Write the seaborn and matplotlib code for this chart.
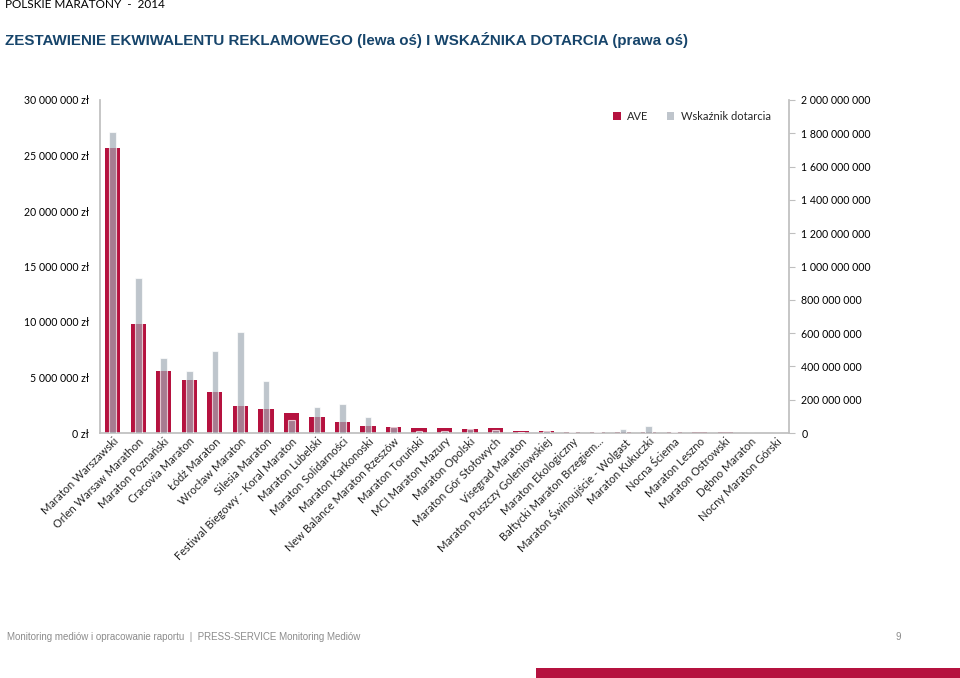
import matplotlib
matplotlib.use("Agg")
import matplotlib.pyplot as plt
import seaborn as sns
import pandas as pd
from matplotlib.ticker import FuncFormatter, MultipleLocator
from matplotlib.patches import Patch, Rectangle

sns.set_theme(style="white")
plt.rcParams['font.family'] = ['Lato', 'DejaVu Sans']

categories = [
    "Maraton Warszawski", "Orlen Warsaw Marathon", "Maraton Poznański",
    "Cracovia Maraton", "Łódź Maraton", "Wrocław Maraton", "Silesia Maraton",
    "Festiwal Biegowy - Koral Maraton", "Maraton Lubelski",
    "Maraton Solidarności", "Maraton Karkonoski",
    "New Balance Maraton Rzeszów", "Maraton Toruński", "MCI Maraton Mazury",
    "Maraton Opolski", "Maraton Gór Stołowych", "Visegrad Maraton",
    "Maraton Puszczy Goleniowskiej", "Maraton Ekologiczny",
    "Bałtycki Maraton Brzegiem...", "Maraton Świnoujście - Wolgast",
    "Maraton Kukuczki", "Nocna Ściema", "Maraton Leszno",
    "Maraton Ostrowski", "Dębno Maraton", "Nocny Maraton Górski",
]
# AVE in zł
ave = [25_700_000, 9_790_000, 5_560_000, 4_740_000, 3_720_000, 2_400_000,
       2_190_000, 1_770_000, 1_410_000, 990_000, 630_000, 570_000, 480_000,
       480_000, 390_000, 480_000, 180_000, 210_000, 100_000, 130_000,
       100_000, 100_000, 80_000, 100_000, 70_000, 20_000, 10_000]
# Wskaźnik dotarcia
reach = [1_806_000_000, 933_000_000, 449_000_000, 370_000_000, 492_000_000,
         605_000_000, 314_000_000, 78_000_000, 154_000_000, 176_000_000,
         98_000_000, 38_000_000, 14_000_000, 14_000_000, 26_000_000,
         18_000_000, 8_000_000, 10_000_000, 6_000_000, 8_000_000,
         22_000_000, 42_000_000, 6_000_000, 3_000_000, 2_000_000,
         500_000, 500_000]

df = pd.DataFrame({"cat": categories, "ave": ave, "reach": reach})

RED = "#B5123F"
GREY = "#A2ABB5"
AXC = "#BFBFBF"

fig = plt.figure(figsize=(9.6, 6.78), dpi=100)
ax = fig.add_axes([100/960, 1-433/678, 689/960, 333/678])

sns.barplot(data=df, x="cat", y="ave", color=RED, saturation=1, width=0.6,
            ax=ax, linewidth=0)
ax2 = ax.twinx()
sns.barplot(data=df, x="cat", y="reach", color=GREY, saturation=1, width=0.26,
            ax=ax2, alpha=0.69, edgecolor="white", linewidth=0.8)

ax.set_xlim(-0.5, len(categories) - 0.5)
ax.set_ylim(0, 30_000_000)
ax2.set_ylim(0, 2_000_000_000)
ax.yaxis.set_major_locator(MultipleLocator(5_000_000))
ax2.yaxis.set_major_locator(MultipleLocator(200_000_000))

def fmt_space(v):
    return f"{int(round(v)):,}".replace(",", " ")

ax.yaxis.set_major_formatter(FuncFormatter(lambda v, p: fmt_space(v) + " zł"))
ax2.yaxis.set_major_formatter(FuncFormatter(lambda v, p: fmt_space(v)))

for a in (ax, ax2):
    a.set_xlabel("")
    a.set_ylabel("")
    a.grid(False)
    for s in a.spines.values():
        s.set_visible(False)

ax.spines['left'].set_visible(True)
ax.spines['left'].set_color(AXC)
ax.spines['bottom'].set_visible(True)
ax.spines['bottom'].set_color(AXC)
ax2.spines['right'].set_visible(True)
ax2.spines['right'].set_color(AXC)

ax.tick_params(axis='y', length=0, labelsize=7.6, colors="#000000", pad=8)
ax2.tick_params(axis='y', length=4, width=0.8, color=AXC, labelsize=7.6,
                labelcolor="#000000", pad=5, direction='out')
ax.tick_params(axis='x', length=0, labelsize=8.0, pad=2)
ax.set_xticks(range(len(categories)))
ax.set_xticklabels(categories, rotation=45, ha="right", rotation_mode="anchor")
ax2.tick_params(axis='x', length=0)

handles = [Patch(facecolor=RED, edgecolor="none"),
           Patch(facecolor="#BFC5CC", edgecolor="none")]
fig.legend(handles, ["AVE", "Wskaźnik dotarcia"], loc="center",
           bbox_to_anchor=(692/960, 1-116/678), ncol=2, frameon=False,
           fontsize=8.0, handlelength=0.7, handleheight=0.7,
           handletextpad=0.6, columnspacing=1.6)

fig.text(5/960, 1-5/678, "POLSKIE MARATONY  -  2014", fontsize=8.5,
         va="center", ha="left", color="#000000")
fig.text(5/960, 1-40/678,
         "ZESTAWIENIE EKWIWALENTU REKLAMOWEGO (lewa oś) I WSKAŹNIKA DOTARCIA (prawa oś)",
         fontsize=10.9, fontweight="bold", color="#17456B", va="center",
         ha="left", family=['Liberation Sans'])
fig.text(7/960, 1-637/678,
         "Monitoring mediów i opracowanie raportu  |  PRESS-SERVICE Monitoring Mediów",
         fontsize=7.0, color="#8C8C8C", va="center", ha="left",
         family=['Liberation Sans'])
fig.text(898/960, 1-637/678, "9", fontsize=7.0, color="#8C8C8C",
         va="center", ha="center", family=['Liberation Sans'])
fig.patches.append(Rectangle((536/960, 0), 424/960, 10/678,
                             transform=fig.transFigure, facecolor=RED,
                             edgecolor="none"))

fig.savefig("out.png", dpi=100)
